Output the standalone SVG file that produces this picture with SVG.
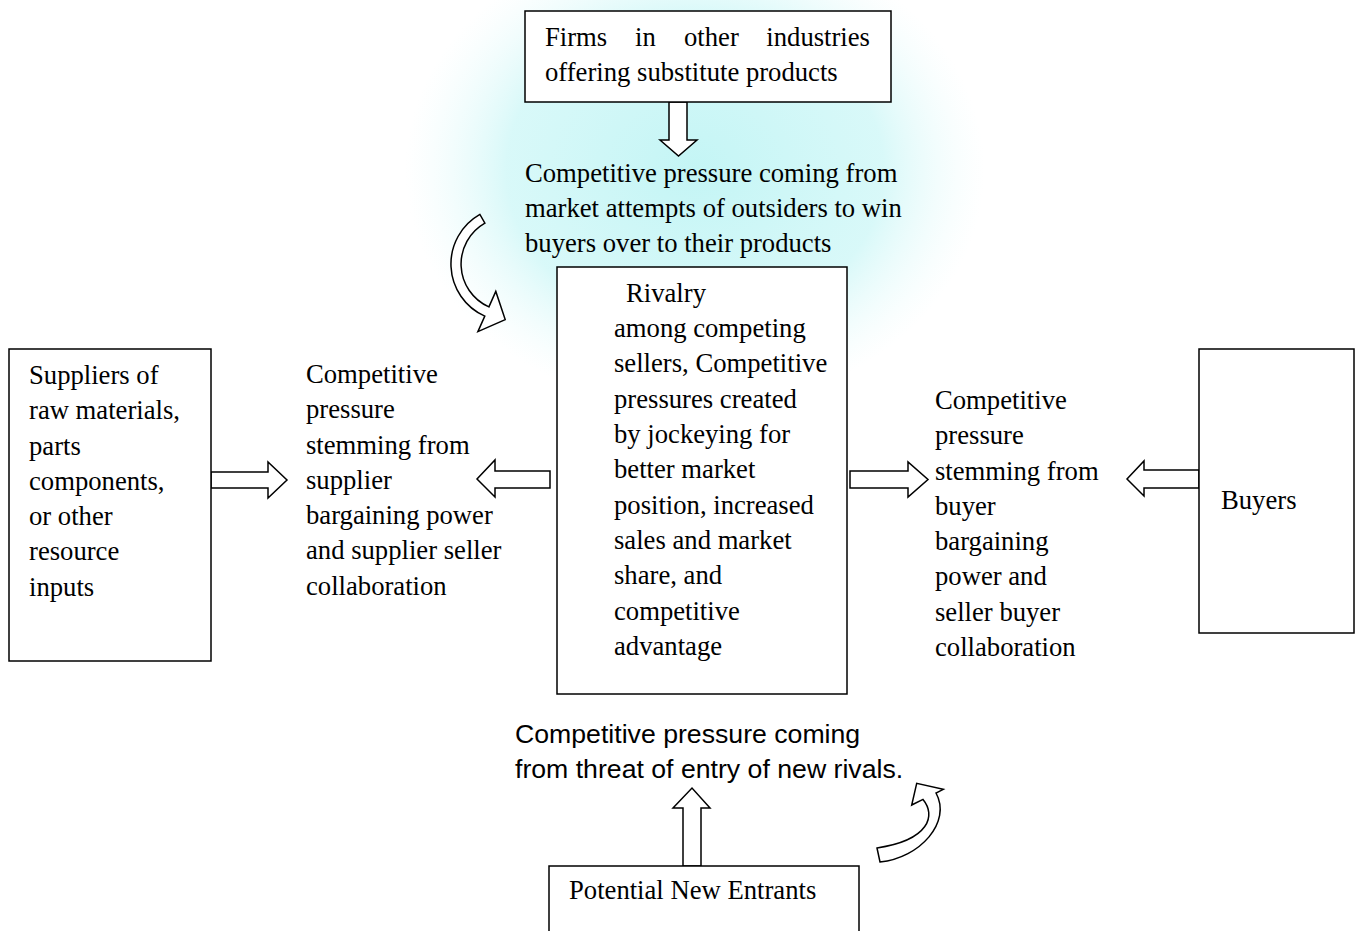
<svg xmlns="http://www.w3.org/2000/svg" width="1356" height="931" viewBox="0 0 1356 931">
<defs>
<radialGradient id="glow" cx="0.5" cy="0.5" r="0.5">
<stop offset="0" stop-color="#bdf4f4" stop-opacity="0.9"/>
<stop offset="0.65" stop-color="#c8f6f6" stop-opacity="0.7"/>
<stop offset="1" stop-color="#e6fbfb" stop-opacity="0"/>
</radialGradient>
<style>
.box{fill:#ffffff;stroke:#000;stroke-width:1.5}
.arw{fill:#ffffff;stroke:#000;stroke-width:1.5;stroke-linejoin:miter}
.t{font-family:"Liberation Serif","Times New Roman",serif;font-size:26.67px;fill:#000}
.s{font-family:"Liberation Sans",Arial,sans-serif;font-size:26.67px;fill:#000}
</style>
</defs>
<rect x="0" y="0" width="1356" height="931" fill="#ffffff"/>
<ellipse cx="695" cy="170" rx="290" ry="240" fill="url(#glow)"/>

<g id="connectors">
<path class="arw" d="M669,102 L687,102 L687,140 L697,140 L678.5,156 L660,140 L669,140 Z"/>
<path class="arw" d="M211,472 L268,472 L268,462 L287,480 L268,498 L268,488 L211,488 Z"/>
<path class="arw" d="M550,471 L495,471 L495,460 L477,479 L495,497 L495,488 L550,488 Z"/>
<path class="arw" d="M850,471 L908,471 L908,462 L928,479.5 L908,497 L908,488 L850,488 Z"/>
<path class="arw" d="M1199,470 L1144,470 L1144,461 L1127,479 L1144,496 L1144,488 L1199,488 Z"/>
<path class="arw" d="M683,866 L683,808 L673,808 L692,788 L710,808 L701,808 L701,866 Z"/>
<path class="arw" d="M479.9,214.4 A57,57 0 0 0 484.8,316.1 L477.9,331.6 L505.2,319.6 L495.8,291.4 L488.9,306.9 A47,47 0 0 1 484.9,223.1 Z"/>
<path class="arw" d="M880,862 C920,858 952,822 936,793 L943.3,789.3 L916.7,783.3 L911.7,805 L923,799.4 C936,815 930,840 877,848 Z"/>
</g>

<g id="substitutes">
<rect class="box" x="525" y="11" width="366" height="91"/>
<text class="t" y="46"><tspan x="545">Firms</tspan><tspan x="635">in</tspan><tspan x="684">other</tspan><tspan x="870" text-anchor="end">industries</tspan></text>
<text class="t" x="545" y="81">offering substitute products</text>
</g>

<g id="substitute-pressure">
<text class="t" x="525" y="182">Competitive pressure coming from</text>
<text class="t" x="525" y="217">market attempts of outsiders to win</text>
<text class="t" x="525" y="252">buyers over to their products</text>
</g>

<g id="rivalry">
<rect class="box" x="557" y="267" width="290" height="427"/>
<text class="t" x="626" y="302">Rivalry</text>
<text class="t" x="614" y="337">among competing</text>
<text class="t" x="614" y="372">sellers, Competitive</text>
<text class="t" x="614" y="408">pressures created</text>
<text class="t" x="614" y="443">by jockeying for</text>
<text class="t" x="614" y="478">better market</text>
<text class="t" x="614" y="514">position, increased</text>
<text class="t" x="614" y="549">sales and market</text>
<text class="t" x="614" y="584">share, and</text>
<text class="t" x="614" y="620">competitive</text>
<text class="t" x="614" y="655">advantage</text>
</g>

<g id="suppliers">
<rect class="box" x="9" y="349" width="202" height="312"/>
<text class="t" x="29" y="384">Suppliers of</text>
<text class="t" x="29" y="419">raw materials,</text>
<text class="t" x="29" y="455">parts</text>
<text class="t" x="29" y="490">components,</text>
<text class="t" x="29" y="525">or other</text>
<text class="t" x="29" y="560">resource</text>
<text class="t" x="29" y="596">inputs</text>
</g>

<g id="supplier-pressure">
<text class="t" x="306" y="383">Competitive</text>
<text class="t" x="306" y="418">pressure</text>
<text class="t" x="306" y="454">stemming from</text>
<text class="t" x="306" y="489">supplier</text>
<text class="t" x="306" y="524">bargaining power</text>
<text class="t" x="306" y="559">and supplier seller</text>
<text class="t" x="306" y="595">collaboration</text>
</g>

<g id="buyer-pressure">
<text class="t" x="935" y="409">Competitive</text>
<text class="t" x="935" y="444">pressure</text>
<text class="t" x="935" y="480">stemming from</text>
<text class="t" x="935" y="515">buyer</text>
<text class="t" x="935" y="550">bargaining</text>
<text class="t" x="935" y="585">power and</text>
<text class="t" x="935" y="621">seller buyer</text>
<text class="t" x="935" y="656">collaboration</text>
</g>

<g id="buyers">
<rect class="box" x="1199" y="349" width="155" height="284"/>
<text class="t" x="1221" y="509">Buyers</text>
</g>

<g id="entry-pressure">
<text class="s" x="515" y="743">Competitive pressure coming</text>
<text class="s" x="515" y="778">from threat of entry of new rivals.</text>
</g>

<g id="new-entrants">
<rect class="box" x="549" y="866" width="310" height="80"/>
<text class="t" x="569" y="899">Potential New Entrants</text>
</g>
</svg>
